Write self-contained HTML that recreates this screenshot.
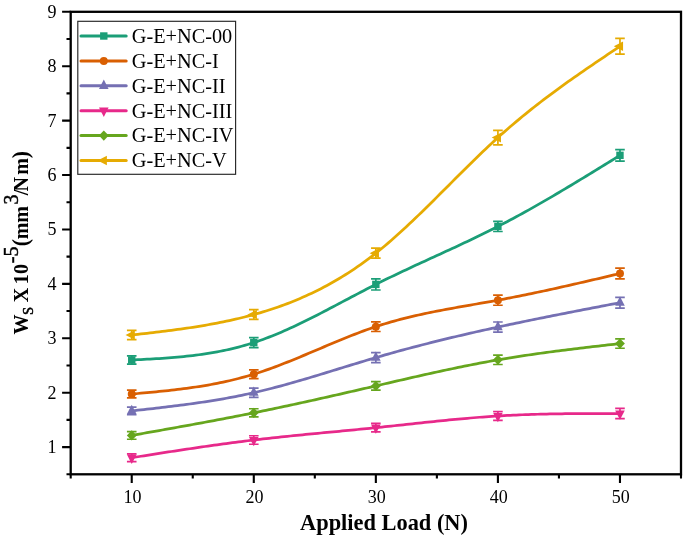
<!DOCTYPE html><html><head><meta charset="utf-8"><title>chart</title><style>html,body{margin:0;padding:0;background:#fff}</style></head><body><svg width="685" height="542" viewBox="0 0 685 542" style="display:block;will-change:transform;opacity:0.999">
<rect width="685" height="542" fill="#fff"/>
<path d="M131.73,360.04 L134.78,359.88 L137.83,359.72 L140.88,359.56 L143.94,359.40 L146.99,359.24 L150.04,359.06 L153.09,358.89 L156.14,358.70 L159.19,358.51 L162.25,358.30 L165.30,358.09 L168.35,357.87 L171.40,357.63 L174.45,357.38 L177.50,357.11 L180.55,356.83 L183.61,356.53 L186.66,356.21 L189.71,355.88 L192.76,355.52 L195.81,355.15 L198.86,354.75 L201.91,354.33 L204.97,353.88 L208.02,353.41 L211.07,352.92 L214.12,352.39 L217.17,351.84 L220.22,351.26 L223.27,350.65 L226.33,350.00 L229.38,349.33 L232.43,348.62 L235.48,347.87 L238.53,347.09 L241.58,346.28 L244.64,345.42 L247.69,344.53 L250.74,343.60 L253.79,342.62 L256.84,341.61 L259.89,340.55 L262.94,339.46 L266.00,338.32 L269.05,337.16 L272.10,335.95 L275.15,334.71 L278.20,333.45 L281.25,332.15 L284.31,330.82 L287.36,329.46 L290.41,328.08 L293.46,326.67 L296.51,325.24 L299.56,323.78 L302.61,322.31 L305.67,320.82 L308.72,319.30 L311.77,317.78 L314.82,316.23 L317.87,314.68 L320.92,313.11 L323.97,311.53 L327.03,309.94 L330.08,308.34 L333.13,306.74 L336.18,305.13 L339.23,303.52 L342.28,301.90 L345.33,300.29 L348.39,298.67 L351.44,297.06 L354.49,295.45 L357.54,293.85 L360.59,292.25 L363.64,290.66 L366.70,289.08 L369.75,287.51 L372.80,285.95 L375.85,284.40 L378.90,282.87 L381.95,281.35 L385.00,279.85 L388.06,278.36 L391.11,276.88 L394.16,275.41 L397.21,273.95 L400.26,272.50 L403.31,271.06 L406.37,269.63 L409.42,268.20 L412.47,266.78 L415.52,265.37 L418.57,263.96 L421.62,262.55 L424.67,261.15 L427.73,259.75 L430.78,258.35 L433.83,256.95 L436.88,255.56 L439.93,254.16 L442.98,252.76 L446.03,251.36 L449.09,249.95 L452.14,248.55 L455.19,247.13 L458.24,245.72 L461.29,244.29 L464.34,242.86 L467.39,241.42 L470.45,239.98 L473.50,238.52 L476.55,237.05 L479.60,235.58 L482.65,234.09 L485.70,232.59 L488.76,231.08 L491.81,229.55 L494.86,228.01 L497.91,226.45 L500.96,224.88 L504.01,223.29 L507.06,221.69 L510.12,220.07 L513.17,218.44 L516.22,216.80 L519.27,215.14 L522.32,213.46 L525.37,211.78 L528.43,210.08 L531.48,208.37 L534.53,206.65 L537.58,204.91 L540.63,203.17 L543.68,201.41 L546.73,199.65 L549.79,197.88 L552.84,196.09 L555.89,194.30 L558.94,192.50 L561.99,190.69 L565.04,188.87 L568.09,187.05 L571.15,185.22 L574.20,183.38 L577.25,181.54 L580.30,179.69 L583.35,177.84 L586.40,175.98 L589.45,174.12 L592.51,172.25 L595.56,170.38 L598.61,168.51 L601.66,166.63 L604.71,164.75 L607.76,162.87 L610.82,160.99 L613.87,159.11 L616.92,157.22 L619.97,155.34" fill="none" stroke="#1b9e77" stroke-width="2.75" stroke-linejoin="round" stroke-linecap="round"/>
<path d="M131.73,355.89V364.19M126.93,355.89h9.6M126.93,364.19h9.6" stroke="#1b9e77" stroke-width="1.7" fill="none"/>
<rect x="128.03" y="356.34" width="7.40" height="7.40" fill="#1b9e77"/>
<path d="M253.79,337.57V347.67M248.99,337.57h9.6M248.99,347.67h9.6" stroke="#1b9e77" stroke-width="1.7" fill="none"/>
<rect x="250.09" y="338.92" width="7.40" height="7.40" fill="#1b9e77"/>
<path d="M375.85,278.80V290.00M371.05,278.80h9.6M371.05,290.00h9.6" stroke="#1b9e77" stroke-width="1.7" fill="none"/>
<rect x="372.15" y="280.70" width="7.40" height="7.40" fill="#1b9e77"/>
<path d="M497.91,221.40V231.50M493.11,221.40h9.6M493.11,231.50h9.6" stroke="#1b9e77" stroke-width="1.7" fill="none"/>
<rect x="494.21" y="222.75" width="7.40" height="7.40" fill="#1b9e77"/>
<path d="M619.97,149.54V161.14M615.17,149.54h9.6M615.17,161.14h9.6" stroke="#1b9e77" stroke-width="1.7" fill="none"/>
<rect x="616.27" y="151.64" width="7.40" height="7.40" fill="#1b9e77"/>
<path d="M131.73,394.04 L134.78,393.77 L137.83,393.50 L140.88,393.22 L143.94,392.94 L146.99,392.66 L150.04,392.37 L153.09,392.08 L156.14,391.79 L159.19,391.48 L162.25,391.17 L165.30,390.85 L168.35,390.52 L171.40,390.18 L174.45,389.83 L177.50,389.47 L180.55,389.10 L183.61,388.71 L186.66,388.31 L189.71,387.89 L192.76,387.46 L195.81,387.01 L198.86,386.55 L201.91,386.06 L204.97,385.56 L208.02,385.03 L211.07,384.49 L214.12,383.92 L217.17,383.33 L220.22,382.72 L223.27,382.08 L226.33,381.41 L229.38,380.73 L232.43,380.01 L235.48,379.27 L238.53,378.50 L241.58,377.70 L244.64,376.86 L247.69,376.00 L250.74,375.11 L253.79,374.18 L256.84,373.22 L259.89,372.23 L262.94,371.21 L266.00,370.16 L269.05,369.08 L272.10,367.98 L275.15,366.85 L278.20,365.70 L281.25,364.53 L284.31,363.34 L287.36,362.14 L290.41,360.91 L293.46,359.68 L296.51,358.43 L299.56,357.16 L302.61,355.89 L305.67,354.61 L308.72,353.33 L311.77,352.04 L314.82,350.74 L317.87,349.45 L320.92,348.15 L323.97,346.86 L327.03,345.57 L330.08,344.28 L333.13,343.00 L336.18,341.73 L339.23,340.47 L342.28,339.21 L345.33,337.98 L348.39,336.75 L351.44,335.54 L354.49,334.35 L357.54,333.18 L360.59,332.02 L363.64,330.89 L366.70,329.79 L369.75,328.71 L372.80,327.65 L375.85,326.63 L378.90,325.63 L381.95,324.66 L385.00,323.73 L388.06,322.81 L391.11,321.93 L394.16,321.07 L397.21,320.23 L400.26,319.42 L403.31,318.63 L406.37,317.87 L409.42,317.12 L412.47,316.39 L415.52,315.68 L418.57,314.99 L421.62,314.32 L424.67,313.66 L427.73,313.02 L430.78,312.39 L433.83,311.77 L436.88,311.17 L439.93,310.57 L442.98,309.99 L446.03,309.42 L449.09,308.85 L452.14,308.30 L455.19,307.75 L458.24,307.20 L461.29,306.66 L464.34,306.12 L467.39,305.59 L470.45,305.06 L473.50,304.52 L476.55,303.99 L479.60,303.46 L482.65,302.92 L485.70,302.38 L488.76,301.84 L491.81,301.30 L494.86,300.74 L497.91,300.18 L500.96,299.62 L504.01,299.04 L507.06,298.46 L510.12,297.87 L513.17,297.27 L516.22,296.67 L519.27,296.06 L522.32,295.44 L525.37,294.82 L528.43,294.19 L531.48,293.56 L534.53,292.92 L537.58,292.27 L540.63,291.62 L543.68,290.97 L546.73,290.31 L549.79,289.64 L552.84,288.98 L555.89,288.30 L558.94,287.62 L561.99,286.94 L565.04,286.26 L568.09,285.57 L571.15,284.88 L574.20,284.18 L577.25,283.49 L580.30,282.78 L583.35,282.08 L586.40,281.38 L589.45,280.67 L592.51,279.96 L595.56,279.25 L598.61,278.54 L601.66,277.82 L604.71,277.11 L607.76,276.39 L610.82,275.67 L613.87,274.96 L616.92,274.24 L619.97,273.52" fill="none" stroke="#d95f02" stroke-width="2.75" stroke-linejoin="round" stroke-linecap="round"/>
<path d="M131.73,390.19V397.89M126.93,390.19h9.6M126.93,397.89h9.6" stroke="#d95f02" stroke-width="1.7" fill="none"/>
<circle cx="131.73" cy="394.04" r="4.0" fill="#d95f02"/>
<path d="M253.79,369.83V378.53M248.99,369.83h9.6M248.99,378.53h9.6" stroke="#d95f02" stroke-width="1.7" fill="none"/>
<circle cx="253.79" cy="374.18" r="4.0" fill="#d95f02"/>
<path d="M375.85,321.78V331.48M371.05,321.78h9.6M371.05,331.48h9.6" stroke="#d95f02" stroke-width="1.7" fill="none"/>
<circle cx="375.85" cy="326.63" r="4.0" fill="#d95f02"/>
<path d="M497.91,295.13V305.23M493.11,295.13h9.6M493.11,305.23h9.6" stroke="#d95f02" stroke-width="1.7" fill="none"/>
<circle cx="497.91" cy="300.18" r="4.0" fill="#d95f02"/>
<path d="M619.97,268.07V278.97M615.17,268.07h9.6M615.17,278.97h9.6" stroke="#d95f02" stroke-width="1.7" fill="none"/>
<circle cx="619.97" cy="273.52" r="4.0" fill="#d95f02"/>
<path d="M131.73,410.91 L134.78,410.57 L137.83,410.24 L140.88,409.90 L143.94,409.56 L146.99,409.21 L150.04,408.87 L153.09,408.52 L156.14,408.17 L159.19,407.82 L162.25,407.46 L165.30,407.10 L168.35,406.73 L171.40,406.36 L174.45,405.98 L177.50,405.60 L180.55,405.21 L183.61,404.81 L186.66,404.41 L189.71,403.99 L192.76,403.57 L195.81,403.14 L198.86,402.70 L201.91,402.25 L204.97,401.79 L208.02,401.32 L211.07,400.84 L214.12,400.35 L217.17,399.84 L220.22,399.32 L223.27,398.79 L226.33,398.25 L229.38,397.69 L232.43,397.12 L235.48,396.53 L238.53,395.93 L241.58,395.31 L244.64,394.68 L247.69,394.03 L250.74,393.37 L253.79,392.68 L256.84,391.98 L259.89,391.26 L262.94,390.53 L266.00,389.78 L269.05,389.01 L272.10,388.23 L275.15,387.44 L278.20,386.63 L281.25,385.81 L284.31,384.98 L287.36,384.13 L290.41,383.28 L293.46,382.41 L296.51,381.54 L299.56,380.66 L302.61,379.77 L305.67,378.87 L308.72,377.96 L311.77,377.05 L314.82,376.13 L317.87,375.21 L320.92,374.28 L323.97,373.35 L327.03,372.42 L330.08,371.48 L333.13,370.55 L336.18,369.61 L339.23,368.67 L342.28,367.73 L345.33,366.79 L348.39,365.85 L351.44,364.92 L354.49,363.99 L357.54,363.06 L360.59,362.13 L363.64,361.21 L366.70,360.30 L369.75,359.39 L372.80,358.48 L375.85,357.59 L378.90,356.70 L381.95,355.82 L385.00,354.94 L388.06,354.08 L391.11,353.22 L394.16,352.37 L397.21,351.53 L400.26,350.69 L403.31,349.86 L406.37,349.04 L409.42,348.22 L412.47,347.41 L415.52,346.61 L418.57,345.81 L421.62,345.02 L424.67,344.24 L427.73,343.46 L430.78,342.69 L433.83,341.92 L436.88,341.17 L439.93,340.41 L442.98,339.66 L446.03,338.92 L449.09,338.18 L452.14,337.45 L455.19,336.73 L458.24,336.01 L461.29,335.29 L464.34,334.58 L467.39,333.87 L470.45,333.17 L473.50,332.48 L476.55,331.78 L479.60,331.10 L482.65,330.41 L485.70,329.73 L488.76,329.06 L491.81,328.39 L494.86,327.72 L497.91,327.06 L500.96,326.40 L504.01,325.75 L507.06,325.10 L510.12,324.45 L513.17,323.81 L516.22,323.16 L519.27,322.53 L522.32,321.89 L525.37,321.26 L528.43,320.63 L531.48,320.01 L534.53,319.38 L537.58,318.76 L540.63,318.15 L543.68,317.53 L546.73,316.92 L549.79,316.31 L552.84,315.70 L555.89,315.10 L558.94,314.49 L561.99,313.89 L565.04,313.29 L568.09,312.69 L571.15,312.09 L574.20,311.50 L577.25,310.90 L580.30,310.31 L583.35,309.72 L586.40,309.13 L589.45,308.54 L592.51,307.95 L595.56,307.36 L598.61,306.78 L601.66,306.19 L604.71,305.61 L607.76,305.02 L610.82,304.44 L613.87,303.85 L616.92,303.27 L619.97,302.69" fill="none" stroke="#7570b3" stroke-width="2.75" stroke-linejoin="round" stroke-linecap="round"/>
<path d="M131.73,407.06V414.76M126.93,407.06h9.6M126.93,414.76h9.6" stroke="#7570b3" stroke-width="1.7" fill="none"/>
<polygon points="131.73,404.71 136.53,414.01 126.93,414.01" fill="#7570b3"/>
<path d="M253.79,388.03V397.33M248.99,388.03h9.6M248.99,397.33h9.6" stroke="#7570b3" stroke-width="1.7" fill="none"/>
<polygon points="253.79,386.48 258.59,395.78 248.99,395.78" fill="#7570b3"/>
<path d="M375.85,352.54V362.64M371.05,352.54h9.6M371.05,362.64h9.6" stroke="#7570b3" stroke-width="1.7" fill="none"/>
<polygon points="375.85,351.39 380.65,360.69 371.05,360.69" fill="#7570b3"/>
<path d="M497.91,322.01V332.11M493.11,322.01h9.6M493.11,332.11h9.6" stroke="#7570b3" stroke-width="1.7" fill="none"/>
<polygon points="497.91,320.86 502.71,330.16 493.11,330.16" fill="#7570b3"/>
<path d="M619.97,297.34V308.04M615.17,297.34h9.6M615.17,308.04h9.6" stroke="#7570b3" stroke-width="1.7" fill="none"/>
<polygon points="619.97,296.49 624.77,305.79 615.17,305.79" fill="#7570b3"/>
<path d="M131.73,457.70 L134.78,457.22 L137.83,456.74 L140.88,456.26 L143.94,455.78 L146.99,455.30 L150.04,454.83 L153.09,454.35 L156.14,453.87 L159.19,453.40 L162.25,452.92 L165.30,452.45 L168.35,451.98 L171.40,451.51 L174.45,451.04 L177.50,450.57 L180.55,450.11 L183.61,449.65 L186.66,449.19 L189.71,448.74 L192.76,448.28 L195.81,447.83 L198.86,447.38 L201.91,446.94 L204.97,446.50 L208.02,446.06 L211.07,445.63 L214.12,445.20 L217.17,444.77 L220.22,444.35 L223.27,443.93 L226.33,443.52 L229.38,443.11 L232.43,442.71 L235.48,442.31 L238.53,441.91 L241.58,441.52 L244.64,441.14 L247.69,440.76 L250.74,440.39 L253.79,440.02 L256.84,439.66 L259.89,439.30 L262.94,438.95 L266.00,438.61 L269.05,438.26 L272.10,437.93 L275.15,437.60 L278.20,437.27 L281.25,436.95 L284.31,436.63 L287.36,436.31 L290.41,436.00 L293.46,435.69 L296.51,435.38 L299.56,435.08 L302.61,434.77 L305.67,434.47 L308.72,434.18 L311.77,433.88 L314.82,433.59 L317.87,433.29 L320.92,433.00 L323.97,432.71 L327.03,432.42 L330.08,432.13 L333.13,431.84 L336.18,431.55 L339.23,431.26 L342.28,430.97 L345.33,430.68 L348.39,430.38 L351.44,430.09 L354.49,429.79 L357.54,429.50 L360.59,429.20 L363.64,428.90 L366.70,428.59 L369.75,428.29 L372.80,427.98 L375.85,427.67 L378.90,427.35 L381.95,427.04 L385.00,426.72 L388.06,426.40 L391.11,426.07 L394.16,425.75 L397.21,425.42 L400.26,425.09 L403.31,424.76 L406.37,424.43 L409.42,424.10 L412.47,423.78 L415.52,423.45 L418.57,423.12 L421.62,422.79 L424.67,422.47 L427.73,422.15 L430.78,421.83 L433.83,421.51 L436.88,421.19 L439.93,420.88 L442.98,420.57 L446.03,420.27 L449.09,419.97 L452.14,419.67 L455.19,419.38 L458.24,419.09 L461.29,418.81 L464.34,418.54 L467.39,418.27 L470.45,418.00 L473.50,417.75 L476.55,417.50 L479.60,417.25 L482.65,417.02 L485.70,416.79 L488.76,416.57 L491.81,416.36 L494.86,416.16 L497.91,415.97 L500.96,415.79 L504.01,415.61 L507.06,415.45 L510.12,415.29 L513.17,415.15 L516.22,415.01 L519.27,414.88 L522.32,414.75 L525.37,414.64 L528.43,414.53 L531.48,414.43 L534.53,414.33 L537.58,414.25 L540.63,414.17 L543.68,414.09 L546.73,414.02 L549.79,413.96 L552.84,413.90 L555.89,413.85 L558.94,413.80 L561.99,413.76 L565.04,413.72 L568.09,413.68 L571.15,413.65 L574.20,413.63 L577.25,413.60 L580.30,413.58 L583.35,413.57 L586.40,413.55 L589.45,413.54 L592.51,413.53 L595.56,413.53 L598.61,413.52 L601.66,413.52 L604.71,413.52 L607.76,413.52 L610.82,413.52 L613.87,413.52 L616.92,413.52 L619.97,413.52" fill="none" stroke="#e7298a" stroke-width="2.75" stroke-linejoin="round" stroke-linecap="round"/>
<path d="M131.73,453.85V461.55M126.93,453.85h9.6M126.93,461.55h9.6" stroke="#e7298a" stroke-width="1.7" fill="none"/>
<polygon points="131.73,463.90 136.53,454.60 126.93,454.60" fill="#e7298a"/>
<path d="M253.79,435.77V444.27M248.99,435.77h9.6M248.99,444.27h9.6" stroke="#e7298a" stroke-width="1.7" fill="none"/>
<polygon points="253.79,446.22 258.59,436.92 248.99,436.92" fill="#e7298a"/>
<path d="M375.85,423.42V431.92M371.05,423.42h9.6M371.05,431.92h9.6" stroke="#e7298a" stroke-width="1.7" fill="none"/>
<polygon points="375.85,433.87 380.65,424.57 371.05,424.57" fill="#e7298a"/>
<path d="M497.91,411.52V420.42M493.11,411.52h9.6M493.11,420.42h9.6" stroke="#e7298a" stroke-width="1.7" fill="none"/>
<polygon points="497.91,422.17 502.71,412.87 493.11,412.87" fill="#e7298a"/>
<path d="M619.97,408.37V418.67M615.17,408.37h9.6M615.17,418.67h9.6" stroke="#e7298a" stroke-width="1.7" fill="none"/>
<polygon points="619.97,419.72 624.77,410.42 615.17,410.42" fill="#e7298a"/>
<path d="M131.73,435.40 L134.78,434.86 L137.83,434.32 L140.88,433.78 L143.94,433.24 L146.99,432.70 L150.04,432.16 L153.09,431.62 L156.14,431.08 L159.19,430.54 L162.25,430.00 L165.30,429.45 L168.35,428.91 L171.40,428.36 L174.45,427.82 L177.50,427.27 L180.55,426.72 L183.61,426.17 L186.66,425.61 L189.71,425.06 L192.76,424.50 L195.81,423.94 L198.86,423.38 L201.91,422.82 L204.97,422.25 L208.02,421.69 L211.07,421.12 L214.12,420.54 L217.17,419.97 L220.22,419.39 L223.27,418.81 L226.33,418.22 L229.38,417.64 L232.43,417.05 L235.48,416.45 L238.53,415.85 L241.58,415.25 L244.64,414.65 L247.69,414.04 L250.74,413.43 L253.79,412.81 L256.84,412.20 L259.89,411.57 L262.94,410.94 L266.00,410.31 L269.05,409.68 L272.10,409.04 L275.15,408.40 L278.20,407.76 L281.25,407.11 L284.31,406.46 L287.36,405.80 L290.41,405.15 L293.46,404.49 L296.51,403.82 L299.56,403.16 L302.61,402.49 L305.67,401.82 L308.72,401.14 L311.77,400.47 L314.82,399.79 L317.87,399.11 L320.92,398.43 L323.97,397.74 L327.03,397.06 L330.08,396.37 L333.13,395.68 L336.18,394.99 L339.23,394.29 L342.28,393.60 L345.33,392.90 L348.39,392.20 L351.44,391.51 L354.49,390.81 L357.54,390.10 L360.59,389.40 L363.64,388.70 L366.70,388.00 L369.75,387.29 L372.80,386.59 L375.85,385.88 L378.90,385.17 L381.95,384.47 L385.00,383.76 L388.06,383.06 L391.11,382.35 L394.16,381.65 L397.21,380.94 L400.26,380.24 L403.31,379.54 L406.37,378.84 L409.42,378.14 L412.47,377.45 L415.52,376.76 L418.57,376.07 L421.62,375.38 L424.67,374.70 L427.73,374.02 L430.78,373.34 L433.83,372.67 L436.88,372.00 L439.93,371.33 L442.98,370.67 L446.03,370.02 L449.09,369.37 L452.14,368.73 L455.19,368.09 L458.24,367.45 L461.29,366.83 L464.34,366.21 L467.39,365.59 L470.45,364.99 L473.50,364.39 L476.55,363.79 L479.60,363.21 L482.65,362.63 L485.70,362.06 L488.76,361.50 L491.81,360.95 L494.86,360.41 L497.91,359.87 L500.96,359.35 L504.01,358.83 L507.06,358.32 L510.12,357.82 L513.17,357.33 L516.22,356.85 L519.27,356.38 L522.32,355.91 L525.37,355.45 L528.43,355.00 L531.48,354.55 L534.53,354.11 L537.58,353.68 L540.63,353.25 L543.68,352.83 L546.73,352.42 L549.79,352.01 L552.84,351.61 L555.89,351.21 L558.94,350.81 L561.99,350.42 L565.04,350.04 L568.09,349.66 L571.15,349.28 L574.20,348.91 L577.25,348.54 L580.30,348.17 L583.35,347.81 L586.40,347.45 L589.45,347.09 L592.51,346.74 L595.56,346.38 L598.61,346.03 L601.66,345.68 L604.71,345.33 L607.76,344.99 L610.82,344.64 L613.87,344.29 L616.92,343.95 L619.97,343.60" fill="none" stroke="#66a61e" stroke-width="2.75" stroke-linejoin="round" stroke-linecap="round"/>
<path d="M131.73,431.55V439.25M126.93,431.55h9.6M126.93,439.25h9.6" stroke="#66a61e" stroke-width="1.7" fill="none"/>
<polygon points="131.73,430.30 136.63,435.40 131.73,440.50 126.83,435.40" fill="#66a61e"/>
<path d="M253.79,408.76V416.86M248.99,408.76h9.6M248.99,416.86h9.6" stroke="#66a61e" stroke-width="1.7" fill="none"/>
<polygon points="253.79,407.71 258.69,412.81 253.79,417.91 248.89,412.81" fill="#66a61e"/>
<path d="M375.85,381.63V390.13M371.05,381.63h9.6M371.05,390.13h9.6" stroke="#66a61e" stroke-width="1.7" fill="none"/>
<polygon points="375.85,380.78 380.75,385.88 375.85,390.98 370.95,385.88" fill="#66a61e"/>
<path d="M497.91,355.22V364.52M493.11,355.22h9.6M493.11,364.52h9.6" stroke="#66a61e" stroke-width="1.7" fill="none"/>
<polygon points="497.91,354.77 502.81,359.87 497.91,364.97 493.01,359.87" fill="#66a61e"/>
<path d="M619.97,338.95V348.25M615.17,338.95h9.6M615.17,348.25h9.6" stroke="#66a61e" stroke-width="1.7" fill="none"/>
<polygon points="619.97,338.50 624.87,343.60 619.97,348.70 615.07,343.60" fill="#66a61e"/>
<path d="M131.73,335.01 L134.78,334.66 L137.83,334.31 L140.88,333.97 L143.94,333.62 L146.99,333.27 L150.04,332.91 L153.09,332.55 L156.14,332.19 L159.19,331.82 L162.25,331.45 L165.30,331.07 L168.35,330.69 L171.40,330.29 L174.45,329.89 L177.50,329.48 L180.55,329.06 L183.61,328.63 L186.66,328.19 L189.71,327.74 L192.76,327.27 L195.81,326.80 L198.86,326.31 L201.91,325.80 L204.97,325.29 L208.02,324.75 L211.07,324.21 L214.12,323.64 L217.17,323.06 L220.22,322.46 L223.27,321.85 L226.33,321.21 L229.38,320.56 L232.43,319.88 L235.48,319.19 L238.53,318.47 L241.58,317.73 L244.64,316.97 L247.69,316.19 L250.74,315.38 L253.79,314.55 L256.84,313.69 L259.89,312.81 L262.94,311.90 L266.00,310.96 L269.05,310.00 L272.10,309.01 L275.15,307.98 L278.20,306.93 L281.25,305.85 L284.31,304.74 L287.36,303.59 L290.41,302.41 L293.46,301.20 L296.51,299.95 L299.56,298.67 L302.61,297.36 L305.67,296.00 L308.72,294.61 L311.77,293.18 L314.82,291.72 L317.87,290.21 L320.92,288.66 L323.97,287.08 L327.03,285.45 L330.08,283.78 L333.13,282.06 L336.18,280.31 L339.23,278.50 L342.28,276.66 L345.33,274.77 L348.39,272.83 L351.44,270.84 L354.49,268.81 L357.54,266.72 L360.59,264.59 L363.64,262.41 L366.70,260.18 L369.75,257.90 L372.80,255.56 L375.85,253.17 L378.90,250.73 L381.95,248.24 L385.00,245.69 L388.06,243.10 L391.11,240.47 L394.16,237.79 L397.21,235.08 L400.26,232.32 L403.31,229.53 L406.37,226.71 L409.42,223.85 L412.47,220.97 L415.52,218.06 L418.57,215.13 L421.62,212.17 L424.67,209.19 L427.73,206.20 L430.78,203.19 L433.83,200.16 L436.88,197.13 L439.93,194.09 L442.98,191.04 L446.03,187.98 L449.09,184.93 L452.14,181.87 L455.19,178.82 L458.24,175.77 L461.29,172.73 L464.34,169.70 L467.39,166.68 L470.45,163.67 L473.50,160.68 L476.55,157.71 L479.60,154.76 L482.65,151.83 L485.70,148.92 L488.76,146.05 L491.81,143.20 L494.86,140.38 L497.91,137.60 L500.96,134.85 L504.01,132.14 L507.06,129.46 L510.12,126.82 L513.17,124.21 L516.22,121.63 L519.27,119.08 L522.32,116.56 L525.37,114.07 L528.43,111.61 L531.48,109.18 L534.53,106.77 L537.58,104.38 L540.63,102.03 L543.68,99.69 L546.73,97.38 L549.79,95.09 L552.84,92.82 L555.89,90.56 L558.94,88.33 L561.99,86.12 L565.04,83.92 L568.09,81.74 L571.15,79.58 L574.20,77.43 L577.25,75.29 L580.30,73.17 L583.35,71.06 L586.40,68.95 L589.45,66.86 L592.51,64.78 L595.56,62.71 L598.61,60.64 L601.66,58.58 L604.71,56.52 L607.76,54.47 L610.82,52.43 L613.87,50.38 L616.92,48.34 L619.97,46.30" fill="none" stroke="#e6ab02" stroke-width="2.75" stroke-linejoin="round" stroke-linecap="round"/>
<path d="M131.73,330.46V339.56M126.93,330.46h9.6M126.93,339.56h9.6" stroke="#e6ab02" stroke-width="1.7" fill="none"/>
<polygon points="125.53,335.01 134.83,330.21 134.83,339.81" fill="#e6ab02"/>
<path d="M253.79,309.70V319.40M248.99,309.70h9.6M248.99,319.40h9.6" stroke="#e6ab02" stroke-width="1.7" fill="none"/>
<polygon points="247.59,314.55 256.89,309.75 256.89,319.35" fill="#e6ab02"/>
<path d="M375.85,248.12V258.22M371.05,248.12h9.6M371.05,258.22h9.6" stroke="#e6ab02" stroke-width="1.7" fill="none"/>
<polygon points="369.65,253.17 378.95,248.37 378.95,257.97" fill="#e6ab02"/>
<path d="M497.91,130.40V144.80M493.11,130.40h9.6M493.11,144.80h9.6" stroke="#e6ab02" stroke-width="1.7" fill="none"/>
<polygon points="491.71,137.60 501.01,132.80 501.01,142.40" fill="#e6ab02"/>
<path d="M619.97,38.40V54.20M615.17,38.40h9.6M615.17,54.20h9.6" stroke="#e6ab02" stroke-width="1.7" fill="none"/>
<polygon points="613.77,46.30 623.07,41.50 623.07,51.10" fill="#e6ab02"/>
<rect x="70.7" y="11.8" width="610.3" height="462.5" fill="none" stroke="#000" stroke-width="2.3"/>
<path d="M62.10,447.09H70.7M62.10,392.68H70.7M62.10,338.27H70.7M62.10,283.86H70.7M62.10,229.45H70.7M62.10,175.04H70.7M62.10,120.62H70.7M62.10,66.21H70.7M62.10,11.80H70.7M66.50,474.30H70.7M66.50,419.89H70.7M66.50,365.48H70.7M66.50,311.06H70.7M66.50,256.65H70.7M66.50,202.24H70.7M66.50,147.83H70.7M66.50,93.42H70.7M66.50,39.01H70.7M131.73,474.3V483.10M253.79,474.3V483.10M375.85,474.3V483.10M497.91,474.3V483.10M619.97,474.3V483.10M70.70,474.3V478.50M192.76,474.3V478.50M314.82,474.3V478.50M436.88,474.3V478.50M558.94,474.3V478.50M681.00,474.3V478.50" stroke="#000" stroke-width="2.1" fill="none"/>
<g font-family="'Liberation Serif',serif" font-size="18" fill="#000">
<text x="56.4" y="453.09" text-anchor="end">1</text>
<text x="56.4" y="398.68" text-anchor="end">2</text>
<text x="56.4" y="344.27" text-anchor="end">3</text>
<text x="56.4" y="289.86" text-anchor="end">4</text>
<text x="56.4" y="235.45" text-anchor="end">5</text>
<text x="56.4" y="181.04" text-anchor="end">6</text>
<text x="56.4" y="126.62" text-anchor="end">7</text>
<text x="56.4" y="72.21" text-anchor="end">8</text>
<text x="56.4" y="17.80" text-anchor="end">9</text>
<text x="132.53" y="503" text-anchor="middle">10</text>
<text x="254.59" y="503" text-anchor="middle">20</text>
<text x="376.65" y="503" text-anchor="middle">30</text>
<text x="498.71" y="503" text-anchor="middle">40</text>
<text x="620.77" y="503" text-anchor="middle">50</text>
</g>
<text x="384" y="530.4" text-anchor="middle" font-family="'Liberation Serif',serif" font-weight="bold" font-size="22.4">Applied Load (N)</text>
<g transform="translate(27.6,334.5) rotate(-90) scale(1,1.05)" font-family="'Liberation Serif',serif" fill="#000"><text transform="translate(0,0) scale(1,1)" font-size="20" font-weight="bold">W</text><text transform="translate(19.5,5.2) scale(1,1)" font-size="14.5" stroke="#000" stroke-width="0.45">S</text><text transform="translate(32.2,0) scale(1,1)" font-size="20" font-weight="bold">X</text><text transform="translate(50.2,0) scale(1,1)" font-size="20" font-weight="bold">1</text><text transform="translate(60.4,0) scale(1,1)" font-size="20" font-weight="bold">0</text><text transform="translate(71.2,-8.7) scale(1,1)" font-size="20" stroke="#000" stroke-width="0.45">-</text><text transform="translate(77.9,-8.7) scale(1,1)" font-size="20" stroke="#000" stroke-width="0.45">5</text><text transform="translate(88.2,0.4) scale(1,1)" font-size="21.5" font-weight="bold">(</text><text transform="translate(95.2,0) scale(1,1)" font-size="20" font-weight="bold">mm</text><text transform="translate(130.0,-8.7) scale(1,1)" font-size="20" stroke="#000" stroke-width="0.45">3</text><text transform="translate(139.2,0) scale(1,1)" font-size="20" font-weight="bold">/</text><text transform="translate(143.0,0) scale(1,1)" font-size="20" font-weight="bold">N</text><text transform="translate(159.8,0) scale(1,1)" font-size="20" font-weight="bold">m</text><text transform="translate(176.2,0.4) scale(1,1)" font-size="21.5" font-weight="bold">)</text></g>
<rect x="77.8" y="21.3" width="157.8" height="153" fill="#fff" stroke="#262626" stroke-width="1.15"/>
<path d="M81,36.00H126.2" stroke="#1b9e77" stroke-width="3" stroke-linecap="round"/>
<rect x="100.10" y="32.30" width="7.40" height="7.40" fill="#1b9e77"/>
<text x="131.8" y="42.80" font-family="'Liberation Serif',serif" font-size="20.3">G-E+NC-00</text>
<path d="M81,60.90H126.2" stroke="#d95f02" stroke-width="3" stroke-linecap="round"/>
<circle cx="103.80" cy="60.90" r="4.0" fill="#d95f02"/>
<text x="131.8" y="67.70" font-family="'Liberation Serif',serif" font-size="20.3">G-E+NC-I</text>
<path d="M81,85.80H126.2" stroke="#7570b3" stroke-width="3" stroke-linecap="round"/>
<polygon points="103.80,79.60 108.60,88.90 99.00,88.90" fill="#7570b3"/>
<text x="131.8" y="92.60" font-family="'Liberation Serif',serif" font-size="20.3">G-E+NC-II</text>
<path d="M81,110.70H126.2" stroke="#e7298a" stroke-width="3" stroke-linecap="round"/>
<polygon points="103.80,116.90 108.60,107.60 99.00,107.60" fill="#e7298a"/>
<text x="131.8" y="117.50" font-family="'Liberation Serif',serif" font-size="20.3">G-E+NC-III</text>
<path d="M81,135.60H126.2" stroke="#66a61e" stroke-width="3" stroke-linecap="round"/>
<polygon points="103.80,130.50 108.70,135.60 103.80,140.70 98.90,135.60" fill="#66a61e"/>
<text x="131.8" y="142.40" font-family="'Liberation Serif',serif" font-size="20.3">G-E+NC-IV</text>
<path d="M81,160.50H126.2" stroke="#e6ab02" stroke-width="3" stroke-linecap="round"/>
<polygon points="97.60,160.50 106.90,155.70 106.90,165.30" fill="#e6ab02"/>
<text x="131.8" y="167.30" font-family="'Liberation Serif',serif" font-size="20.3">G-E+NC-V</text>
</svg></body></html>
